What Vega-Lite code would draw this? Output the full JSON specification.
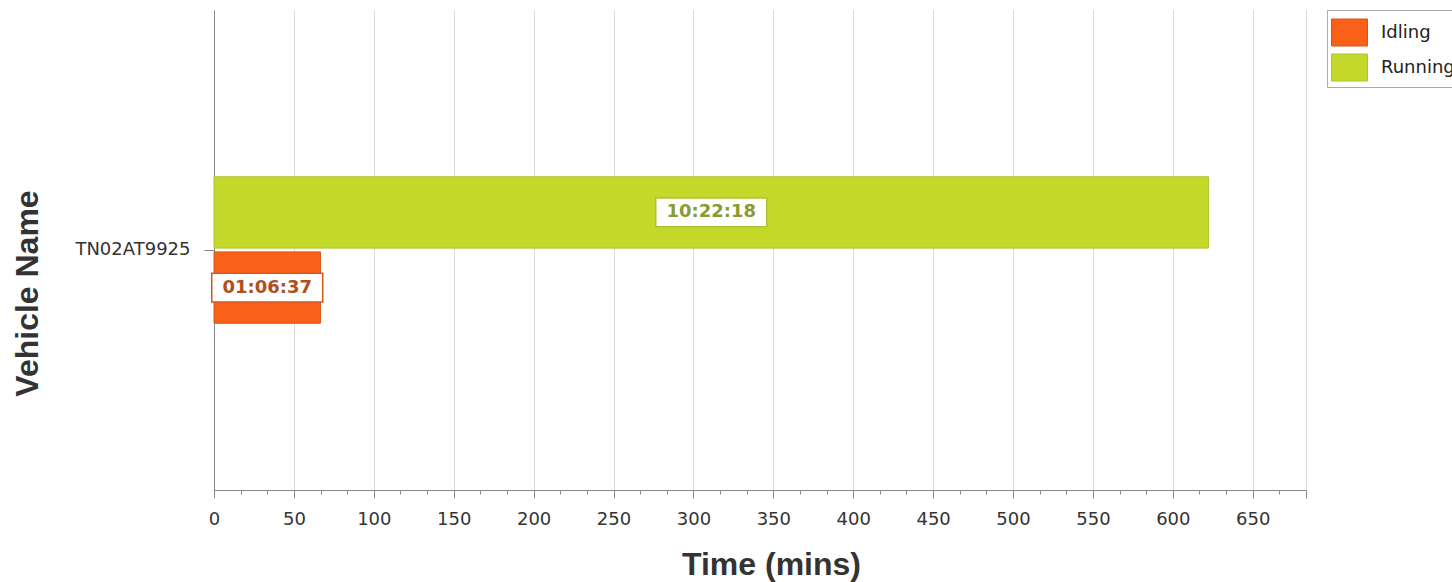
{
  "$schema": "https://vega.github.io/schema/vega-lite/v6.json",
  "width": 1092,
  "height": 480,
  "autosize": {"type": "none"},
  "padding": {"left": 214, "top": 10, "right": 146, "bottom": 92},
  "background": "white",
  "config": {"view": {"stroke": null}, "font": "DejaVu Sans"},
  "data": {
    "values": [
      {"vehicle": "TN02AT9925", "status": "Running", "minutes": 622.3, "label": "10:22:18"},
      {"vehicle": "TN02AT9925", "status": "Idling", "minutes": 66.617, "label": "01:06:37"}
    ]
  },
  "encoding": {
    "y": {
      "field": "vehicle",
      "type": "nominal",
      "scale": {"type": "band", "paddingOuter": 1, "paddingInner": 0},
      "axis": {
        "title": "Vehicle Name",
        "titleFont": "Liberation Sans",
        "titleFontSize": 32,
        "titleFontWeight": "bold",
        "titleColor": "#333333",
        "titleAngle": 270,
        "titleX": -187,
        "titleY": 283,
        "titleBaseline": "middle",
        "titleAlign": "center",
        "labelFontSize": 18,
        "labelColor": "#333333",
        "labelPadding": 14,
        "tickSize": 10,
        "tickColor": "#888888",
        "domainColor": "#888888",
        "grid": false
      }
    },
    "yOffset": {
      "field": "status",
      "type": "nominal",
      "sort": ["Running", "Idling"],
      "scale": {"paddingInner": 0.05, "paddingOuter": 0.09}
    }
  },
  "resolve": {"axis": {"x": "independent"}},
  "layer": [
    {
      "mark": {"type": "bar", "strokeWidth": 1},
      "encoding": {
        "x": {
          "field": "minutes",
          "type": "quantitative",
          "scale": {"domain": [0, 683.33], "nice": false},
          "axis": {
            "orient": "bottom",
            "values": [0, 50, 100, 150, 200, 250, 300, 350, 400, 450, 500, 550, 600, 650, 683.33],
            "labelExpr": "datum.value > 670 ? '' : datum.label",
            "labelFlush": false,
            "grid": true,
            "gridColor": "#dcdcdc",
            "tickSize": 8,
            "tickColor": "#888888",
            "domainColor": "#888888",
            "labelFontSize": 18,
            "labelColor": "#333333",
            "labelPadding": 12,
            "title": "Time (mins)",
            "titleFont": "Liberation Sans",
            "titleFontSize": 32,
            "titleFontWeight": "bold",
            "titleColor": "#333333",
            "titleX": 557,
            "titleY": 84,
            "titleBaseline": "alphabetic",
            "titleAlign": "center"
          }
        },
        "color": {
          "field": "status",
          "type": "nominal",
          "scale": {"domain": ["Idling", "Running"], "range": ["#FB6019", "#C4D82A"]},
          "legend": {
            "title": null,
            "orient": "none",
            "legendX": 1113,
            "legendY": 0,
            "direction": "vertical",
            "symbolType": "M-1,-0.75L1,-0.75L1,0.75L-1,0.75Z",
            "symbolSize": 1296,
            "symbolStrokeWidth": 1,
            "labelFontSize": 18,
            "labelColor": "#222222",
            "labelOffset": 13,
            "padding": 4,
            "rowPadding": 1,
            "strokeColor": "#aaaaaa",
            "fillColor": "white"
          }
        },
        "stroke": {
          "field": "status",
          "type": "nominal",
          "scale": {"domain": ["Idling", "Running"], "range": ["#D4561C", "#AFC232"]},
          "legend": null
        }
      }
    },
    {
      "transform": [{"calculate": "datum.minutes / 2", "as": "mid"}],
      "mark": {
        "type": "point",
        "filled": true,
        "fill": "white",
        "opacity": 1,
        "strokeWidth": 1.5,
        "shape": "M-1,-0.26L1,-0.26L1,0.26L-1,0.26Z",
        "size": 12321
      },
      "encoding": {
        "x": {"field": "mid", "type": "quantitative", "axis": null},
        "stroke": {"field": "status", "type": "nominal", "legend": null}
      }
    },
    {
      "transform": [{"calculate": "datum.minutes / 2", "as": "mid"}],
      "mark": {
        "type": "text",
        "font": "DejaVu Sans",
        "fontSize": 18,
        "fontWeight": "bold",
        "align": "center",
        "baseline": "middle"
      },
      "encoding": {
        "x": {
          "field": "mid",
          "type": "quantitative",
          "axis": {
            "orient": "bottom",
            "title": null,
            "values": [16.667, 33.333, 66.667, 83.333, 116.667, 133.333, 166.667, 183.333, 216.667, 233.333, 266.667, 283.333, 316.667, 333.333, 366.667, 383.333, 416.667, 433.333, 466.667, 483.333, 516.667, 533.333, 566.667, 583.333, 616.667, 633.333, 666.667],
            "labels": false,
            "domain": false,
            "grid": false,
            "tickSize": 4,
            "tickColor": "#888888"
          }
        },
        "text": {"field": "label"},
        "fill": {
          "field": "status",
          "type": "nominal",
          "scale": {"domain": ["Idling", "Running"], "range": ["#B04E1C", "#8A9A30"]},
          "legend": null
        }
      }
    }
  ]
}
